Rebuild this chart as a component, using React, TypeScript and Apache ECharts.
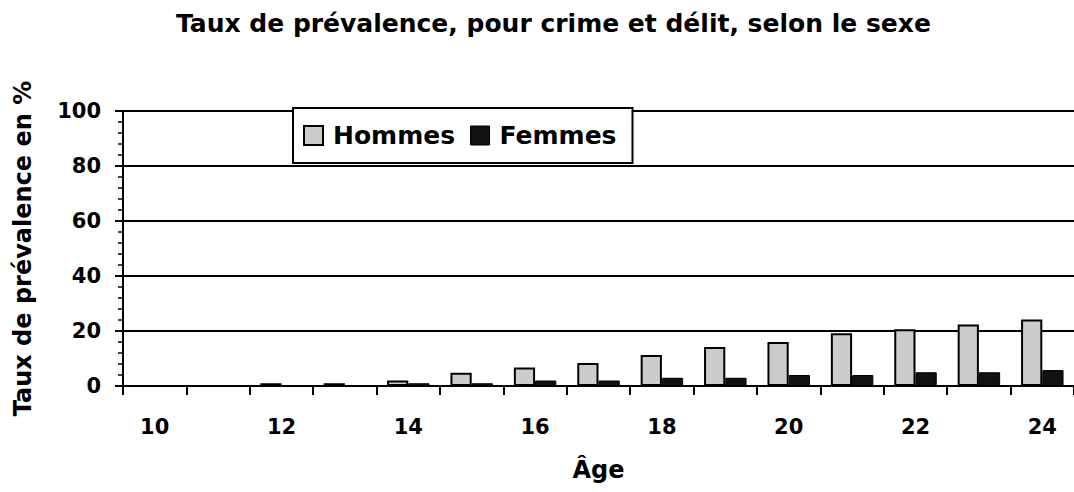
import React, { useEffect, useRef } from "react";
import * as echarts from "echarts";

const ages = ["10", "11", "12", "13", "14", "15", "16", "17", "18", "19", "20", "21", "22", "23", "24"];
const hommes = [0, 0, 1, 1, 2, 4.8, 6.7, 8.4, 11.3, 14.2, 16, 19.2, 20.6, 22.4, 24.2];
const femmes = [0, 0, 0, 0, 1, 1, 2, 2, 3, 3, 4, 4, 5, 5, 5.8];

const FONT = "DejaVu Sans";

export default function App() {
  const ref = useRef<HTMLDivElement>(null);
  useEffect(() => {
    const chart = echarts.init(ref.current!, null, { renderer: "svg" });
    chart.setOption({
      animation: false,
      backgroundColor: "#fff",
      title: {
        text: "Taux de prévalence, pour crime et délit, selon le sexe",
        left: 176,
        top: 11,
        padding: 0,
        textStyle: { fontFamily: FONT, fontSize: 25, fontWeight: "bold", color: "#000" },
      },
      legend: {
        left: 293,
        top: 108,
        orient: "horizontal",
        icon: "rect",
        itemWidth: 19,
        itemHeight: 19,
        itemGap: 15,
        padding: [15, 16, 15, 10],
        borderColor: "#000",
        borderWidth: 2,
        backgroundColor: "#fff",
        textStyle: { fontFamily: FONT, fontSize: 25, fontWeight: "bold", color: "#000", padding: [0, 0, 0, 5] },
        data: [
          { name: "Hommes", itemStyle: { color: "#cccccc", borderColor: "#000", borderWidth: 2 } },
          { name: "Femmes", itemStyle: { color: "#111", borderColor: "#000", borderWidth: 1 } },
        ],
      },
      grid: { left: 123, top: 111, width: 964, height: 275, containLabel: false },
      xAxis: {
        type: "category",
        data: ages,
        name: "Âge",
        nameLocation: "middle",
        nameGap: 72,
        nameTextStyle: { fontFamily: FONT, fontSize: 24, fontWeight: "bold", color: "#000" },
        axisLine: { lineStyle: { color: "#000", width: 2 } },
        axisTick: { show: true, interval: 0, length: 9, lineStyle: { color: "#000", width: 2 } },
        axisLabel: { interval: 1, margin: 30, fontFamily: FONT, fontSize: 21, fontWeight: "bold", color: "#000" },
      },
      yAxis: {
        type: "value",
        min: 0,
        max: 100,
        interval: 20,
        name: "Taux de prévalence en %",
        nameLocation: "middle",
        nameGap: 88,
        nameTextStyle: { fontFamily: FONT, fontSize: 24, fontWeight: "bold", color: "#000" },
        axisLine: { show: true, lineStyle: { color: "#000", width: 2 } },
        axisTick: { show: true, length: 8, lineStyle: { color: "#000", width: 2 } },
        minorTick: { show: true, splitNumber: 5, length: 5, lineStyle: { color: "#000", width: 1.5 } },
        splitLine: { show: true, lineStyle: { color: "#000", width: 2 } },
        axisLabel: { margin: 22, fontFamily: FONT, fontSize: 21, fontWeight: "bold", color: "#000" },
      },
      series: [
        {
          name: "Hommes",
          type: "bar",
          data: hommes,
          barGap: "0%",
          barCategoryGap: "33%",
          itemStyle: { color: "#cccccc", borderColor: "#000", borderWidth: 2 },
        },
        {
          name: "Femmes",
          type: "bar",
          data: femmes,
          itemStyle: { color: "#111", borderColor: "#000", borderWidth: 1 },
        },
      ],
    });
    return () => chart.dispose();
  }, []);
  return (
    <div
      ref={ref}
      style={{ position: "absolute", left: 0, top: 0, width: 1074, height: 492, background: "#fff" }}
    />
  );
}
